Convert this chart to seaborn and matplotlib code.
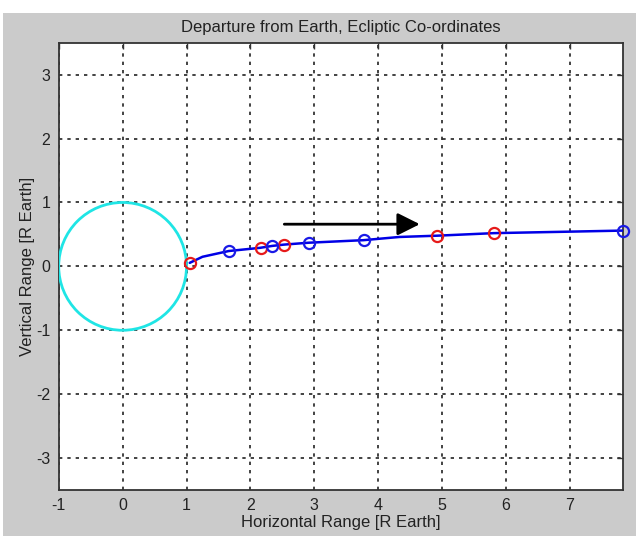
import seaborn as sns
from matplotlib import pyplot as plt
from matplotlib.patches import Circle, Rectangle

# Earth outline (ecliptic plane, units of Earth radii)
earth_center = (0.0, 0.0)
earth_radius = 1.0

# Departure trajectory
traj_x = [1.05, 1.25, 1.66, 2.15, 2.34, 2.52, 2.91, 3.77, 4.33, 4.92, 5.81, 6.83, 7.83]
traj_y = [0.055, 0.15, 0.24, 0.29, 0.32, 0.34, 0.37, 0.41, 0.46, 0.48, 0.52, 0.54, 0.56]

# Marker positions along the trajectory
red_x = [1.05, 2.17, 2.52, 4.92, 5.81]
red_y = [0.055, 0.29, 0.34, 0.48, 0.52]
blue_x = [1.66, 2.34, 2.91, 3.77, 7.83]
blue_y = [0.24, 0.32, 0.37, 0.41, 0.56]

# Direction arrow
arrow_start = (2.53, 0.66)
arrow_end = (4.65, 0.66)

x_ticks = [-1, 0, 1, 2, 3, 4, 5, 6, 7]
y_ticks = [-3, -2, -1, 0, 1, 2, 3]

sns.set_style("white")
plt.rcParams['font.family'] = ['Liberation Sans', 'DejaVu Sans']
plt.rcParams['axes.unicode_minus'] = False

fig = plt.figure(figsize=(6.36, 5.36), dpi=100, facecolor='#cbcbcb')
# white strip along top and left edge like the screenshot
fig.patches.append(Rectangle((0, 523 / 536), 1, 13 / 536, transform=fig.transFigure,
                             facecolor='white', edgecolor='none', zorder=-10))
fig.patches.append(Rectangle((0, 0), 3 / 636, 1, transform=fig.transFigure,
                             facecolor='white', edgecolor='none', zorder=-10))
ax = fig.add_axes([0.0923, 0.0858, 0.8873, 0.8345])
ax.set_facecolor('white')

# Earth
ax.add_patch(Circle(earth_center, earth_radius, fill=False, edgecolor='#1fe5e5', lw=2, zorder=3))

# trajectory
sns.lineplot(x=traj_x, y=traj_y, color='#0000e6', lw=1.8, estimator=None, sort=False, ax=ax, zorder=4)
ax.plot(red_x, red_y, 'o', ms=8, mfc='none', mec='#e61a1a', mew=1.6, zorder=5, clip_on=False)
ax.plot(blue_x, blue_y, 'o', ms=8, mfc='none', mec='#1a1ae6', mew=1.6, zorder=5, clip_on=False)

ax.annotate('', xy=arrow_end, xytext=arrow_start,
            arrowprops=dict(arrowstyle='-|>', color='black', lw=2, mutation_scale=34,
                            shrinkA=0, shrinkB=0))

ax.set_xlim(-1, 7.83)
ax.set_ylim(-3.5, 3.5)
ax.set_xticks(x_ticks)
ax.set_yticks(y_ticks)
ax.grid(True, color='#222222', linestyle=(0, (2, 3)), lw=1.2)
ax.tick_params(direction='in', top=True, right=True, length=4, width=1,
               labelsize=11.5, labelcolor='#222222', color='#333333', pad=6)
for s in ax.spines.values():
    s.set_color('#333333')
    s.set_linewidth(1.3)

ax.set_title('Departure from Earth, Ecliptic Co-ordinates', fontsize=12, color='#222222', pad=8)
ax.set_xlabel('Horizontal Range [R Earth]', fontsize=12, color='#222222', labelpad=1.5)
ax.set_ylabel('Vertical Range [R Earth]', fontsize=12, color='#222222', labelpad=1)

fig.savefig('out.png', dpi=100, facecolor=fig.get_facecolor())
